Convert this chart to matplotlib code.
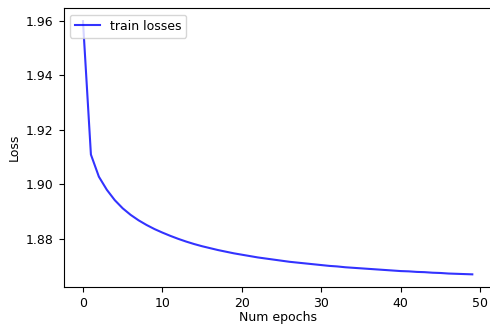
import matplotlib
matplotlib.use("Agg")
import matplotlib.pyplot as plt

epochs = list(range(50))
train_losses = [
    1.9598, 1.9109, 1.9028, 1.8980, 1.8942, 1.8912, 1.8888, 1.8868, 1.8851, 1.8836,
    1.8823, 1.8811, 1.8800, 1.8790, 1.8781, 1.8773, 1.8766, 1.8759, 1.8753, 1.8747,
    1.8742, 1.8737, 1.8732, 1.8728, 1.8724, 1.8720, 1.8716, 1.8713, 1.8710, 1.8707,
    1.8704, 1.8701, 1.8699, 1.8696, 1.8694, 1.8692, 1.8690, 1.8688, 1.8686, 1.8684,
    1.8682, 1.8681, 1.8679, 1.8678, 1.8676, 1.8675, 1.8673, 1.8672, 1.8671, 1.8670,
]

plt.rcParams['font.size'] = 9

fig = plt.figure(figsize=(4.9, 3.26), dpi=100)
ax = fig.add_axes([0.1296, 0.1196, 0.874, 0.8544])
ax.plot(epochs, train_losses, color='blue', alpha=0.8, label='train losses')
ax.set_xlabel('Num epochs', labelpad=1)
ax.set_ylabel('Loss')
ax.set_yticks([1.88, 1.90, 1.92, 1.94, 1.96])
ax.legend(loc='upper left')
fig.savefig('out.png', dpi=100)
